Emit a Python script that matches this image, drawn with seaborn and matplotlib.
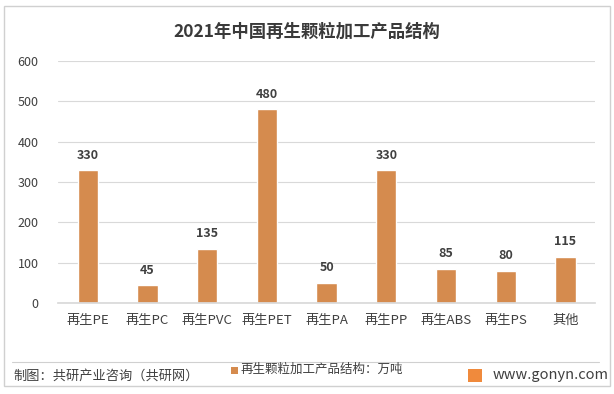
import matplotlib
matplotlib.use("Agg")
import matplotlib.pyplot as plt
import seaborn as sns
import pandas as pd
from matplotlib.patches import Rectangle
from matplotlib.lines import Line2D

# 数据
categories = ["再生PE", "再生PC", "再生PVC", "再生PET", "再生PA", "再生PP", "再生ABS", "再生PS", "其他"]
values = [330, 45, 135, 480, 50, 330, 85, 80, 115]
series_name = "再生颗粒加工产品结构：万吨"
title = "2021年中国再生颗粒加工产品结构"
y_ticks = [0, 100, 200, 300, 400, 500, 600]

sns.set_theme(style="white")
plt.rcParams['font.family'] = ['Noto Sans CJK SC', 'DejaVu Sans']

df = pd.DataFrame({"cat": categories, "val": values})
bar_color = "#D58B4E"

fig = plt.figure(figsize=(6.14, 3.94), dpi=100)
ax = fig.add_axes([0.0945, 0.231, 0.875, 0.614])

sns.barplot(data=df, x="cat", y="val", color=bar_color, width=0.34, saturation=1, ax=ax)

ax.set_ylim(0, 600)
ax.set_yticks(y_ticks)
ax.set_xlim(-0.5, len(categories) - 0.5)
ax.yaxis.grid(True, color="#D9D9D9", linewidth=0.8)
ax.set_axisbelow(True)
for s in ["top", "right", "left"]:
    ax.spines[s].set_visible(False)
ax.spines["bottom"].set_color("#D9D9D9")
ax.set_xlabel("")
ax.set_ylabel("")
ax.tick_params(axis="y", labelsize=9, colors="#404040", length=0, pad=14)
ax.tick_params(axis="x", labelsize=9.5, colors="#404040", length=0, pad=8)

# 数据标签
for i, v in enumerate(values):
    ax.annotate(str(v), (i, v), xytext=(0, 6), textcoords="offset points",
                ha="center", va="bottom", fontsize=9, color="#404040", fontweight="bold")

fig.text(0.5, 0.92, title, ha="center", va="center", fontsize=12.5,
         fontweight="bold", color="#3A3A3A")

# 外框与分隔线
fig.patches.append(Rectangle((0.007, 0.02), 0.986, 0.965, transform=fig.transFigure,
                             fill=False, edgecolor="#D0D0D0", linewidth=1))
sep_y = 1 - 362 / 394
fig.lines.append(Line2D([0.02, 0.975], [sep_y, sep_y], transform=fig.transFigure,
                        color="#D0D0D0", linewidth=0.8))

# 图例
fig.patches.append(Rectangle((0.376, 1 - 374 / 394), 0.011, 0.018, transform=fig.transFigure,
                             facecolor=bar_color, edgecolor="none"))
fig.text(0.392, 1 - 369 / 394, series_name, ha="left", va="center", fontsize=9, color="#404040")

# 底部文字
fig.text(0.022, 1 - 376 / 394, "制图：共研产业咨询（共研网）", ha="left", va="center",
         fontsize=9.5, color="#404040")
fig.patches.append(Rectangle((0.763, 1 - 382 / 394), 0.022, 0.033, transform=fig.transFigure,
                             facecolor="#F08A3C", edgecolor="none"))
fig.text(0.803, 1 - 375 / 394, "www.gonyn.com", ha="left", va="center",
         fontsize=10.5, color="#404040")

fig.savefig("out.png", dpi=100)
